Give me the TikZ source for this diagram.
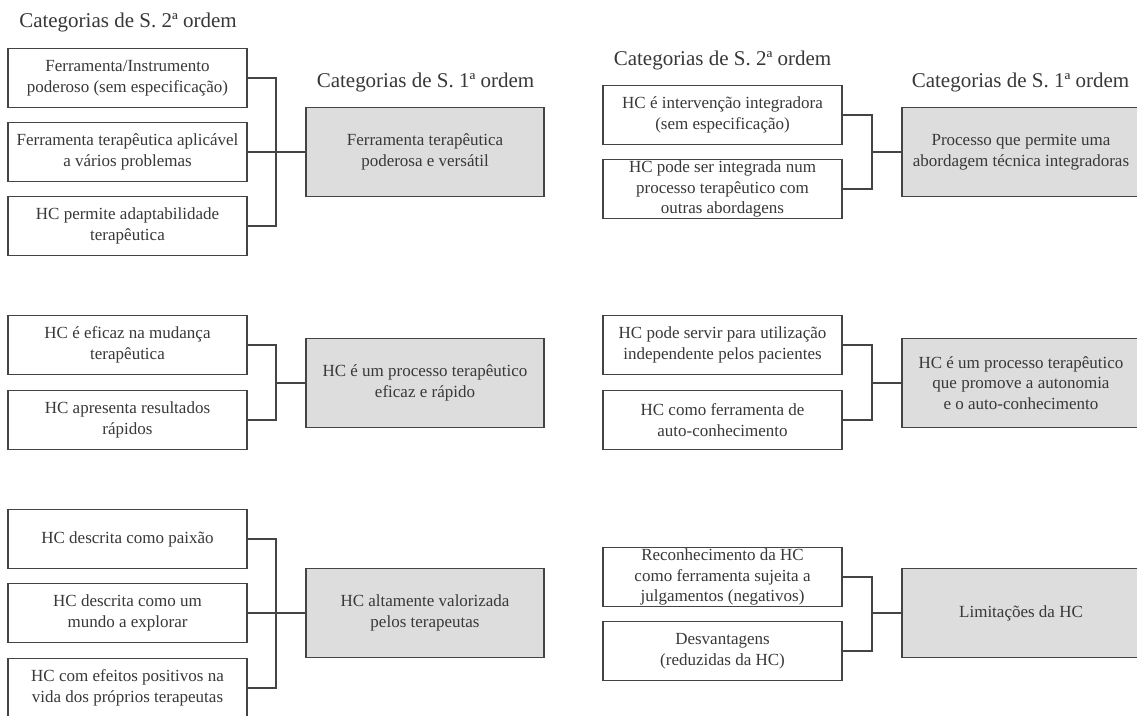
\documentclass[tikz,border=0pt]{standalone}
\usepackage{fontspec}
\setmainfont{Liberation Serif}
\definecolor{inkC}{HTML}{383838}
\definecolor{lineC}{HTML}{444444}
\definecolor{grayC}{HTML}{DCDDDC}
\tikzset{
  sbox/.style={draw=lineC, line width=1.4pt, fill=white, rectangle,
    minimum width=239pt, minimum height=59pt, inner sep=0pt, align=center,
    text=inkC, font=\fontsize{17}{20.5}\selectfont},
  gbox/.style={sbox, fill=grayC, minimum width=238pt, minimum height=89pt},
  ttl/.style={anchor=base, text=inkC, font=\fontsize{21}{25}\selectfont},
  conn/.style={draw=lineC, line width=1.4pt, line join=miter}
}
\begin{document}
\begin{tikzpicture}[x=1pt, y=-1pt]
\useasboundingbox (0,0) rectangle (1137,715);
\fill[white] (0,0) rectangle (1137,715);

% column headings
\node[ttl] (hL2) at (128,27) {Categorias de S. 2ª ordem};
\node[ttl] (hL1) at (425.5,87) {Categorias de S. 1ª ordem};
\node[ttl] (hR2) at (722.5,65) {Categorias de S. 2ª ordem};
\node[ttl] (hR1) at (1020.5,87) {Categorias de S. 1ª ordem};

% left group 1
\node[sbox] (a1) at (127.5,78) {Ferramenta/Instrumento\\poderoso (sem especificação)};
\node[sbox] (a2) at (127.5,152) {Ferramenta terapêutica aplicável\\a vários problemas};
\node[sbox] (a3) at (127.5,226) {HC permite adaptabilidade\\terapêutica};
\node[gbox] (ga) at (425,152) {Ferramenta terapêutica\\poderosa e versátil};
\coordinate (ja) at (276,152);

% right group 1
\node[sbox] (b1) at (722.5,115) {HC é intervenção integradora\\(sem especificação)};
\node[sbox] (b2) at (722.5,189) {HC pode ser integrada num\\processo terapêutico com\\outras abordagens};
\node[gbox] (gb) at (1021,152) {Processo que permite uma\\abordagem técnica integradoras};
\coordinate (jb) at (872,152);

% left group 2
\node[sbox] (c1) at (127.5,345) {HC é eficaz na mudança\\terapêutica};
\node[sbox] (c2) at (127.5,420) {HC apresenta resultados\\rápidos};
\node[gbox] (gc) at (425,383) {HC é um processo terapêutico\\eficaz e rápido};
\coordinate (jc) at (276,383);

% right group 2
\node[sbox] (d1) at (722.5,345) {HC pode servir para utilização\\independente pelos pacientes};
\node[sbox] (d2) at (722.5,420) {HC como ferramenta de\\auto-conhecimento};
\node[gbox] (gd) at (1021,383) {HC é um processo terapêutico\\que promove a autonomia\\e o auto-conhecimento};
\coordinate (jd) at (872,383);

% left group 3
\node[sbox] (e1) at (127.5,539) {HC descrita como paixão};
\node[sbox] (e2) at (127.5,613) {HC descrita como um\\mundo a explorar};
\node[sbox] (e3) at (127.5,688) {HC com efeitos positivos na\\vida dos próprios terapeutas};
\node[gbox] (ge) at (425,613) {HC altamente valorizada\\pelos terapeutas};
\coordinate (je) at (276,613);

% right group 3
\node[sbox] (f1) at (722.5,577) {Reconhecimento da HC\\como ferramenta sujeita a\\julgamentos (negativos)};
\node[sbox] (f2) at (722.5,651) {Desvantagens\\(reduzidas da HC)};
\node[gbox] (gf) at (1021,613) {Limitações da HC};
\coordinate (jf) at (872,613);

% bracket connectors
\draw[conn] (a1.east) -| (ja);
\draw[conn] (a3.east) -| (ja);
\draw[conn] (a2.east) -- (ja) -- (ga.west);

\draw[conn] (b1.east) -| (jb);
\draw[conn] (b2.east) -| (jb);
\draw[conn] (jb) -- (gb.west);

\draw[conn] (c1.east) -| (jc);
\draw[conn] (c2.east) -| (jc);
\draw[conn] (jc) -- (gc.west);

\draw[conn] (d1.east) -| (jd);
\draw[conn] (d2.east) -| (jd);
\draw[conn] (jd) -- (gd.west);

\draw[conn] (e1.east) -| (je);
\draw[conn] (e3.east) -| (je);
\draw[conn] (e2.east) -- (je) -- (ge.west);

\draw[conn] (f1.east) -| (jf);
\draw[conn] (f2.east) -| (jf);
\draw[conn] (jf) -- (gf.west);
\end{tikzpicture}
\end{document}
